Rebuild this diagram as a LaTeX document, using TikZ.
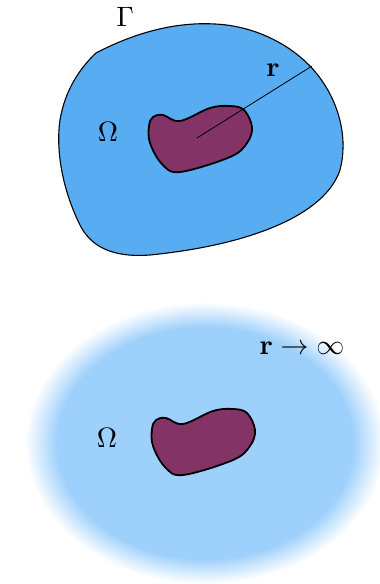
\documentclass[tikz,border=0pt]{standalone}
\begin{document}
\definecolor{topblue}{HTML}{58ACF2}
\definecolor{farblue}{HTML}{9DD0FB}
\definecolor{blobpurple}{HTML}{843366}
\pgfdeclareradialshading{farfade}{\pgfpoint{0bp}{0bp}}{%
  color(0bp)=(farblue); color(20.5bp)=(farblue); color(22.5bp)=(farblue!55!white);
  color(25bp)=(white); color(50bp)=(white)}
\begin{tikzpicture}[x=1pt,y=-1pt,
  lbl/.style={inner sep=0pt,font=\normalsize,scale=2.8},
  blobstyle/.style={fill=blobpurple,draw=black,line width=1.8pt},
]
\useasboundingbox (0,0) rectangle (380,584);
% ---------- top picture ----------
\draw[fill=topblue,line width=1.1pt]
  (96,53) .. controls (140,30) and (180,22) .. (215,24)
  .. controls (260,26) and (300,50) .. (320,78)
  .. controls (340,105) and (348,140) .. (340,170)
  .. controls (325,215) and (250,245) .. (150,255)
  .. controls (110,258) and (90,245) .. (80,225)
  .. controls (65,195) and (55,155) .. (60,120)
  .. controls (65,90) and (80,68) .. (96,53) -- cycle;
\draw[blobstyle,tension=0.6] plot[smooth cycle] coordinates{
   (153,117) (163,115) (180,121) (210,108) (230,106) (244,110) (252,127)
   (247,143) (230,157) (180,172) (162,164) (150,143) (149,126)};
\coordinate (c1) at (197,138);
\coordinate (g1) at (312,66);
\draw[line width=0.8pt] (c1) -- (g1);
\node[lbl] (gam) at (125,17) {$\Gamma$};
\node[lbl] (rr) at (273,70) {$\mathbf{r}$};
\node[lbl] (om2x) at (108,132) {$\Omega$};
% ---------- bottom picture ----------
\shade[shading=farfade] (205,443) ellipse [x radius=180pt, y radius=141pt];
\begin{scope}[shift={(3,303)}]
\draw[blobstyle,tension=0.6] plot[smooth cycle] coordinates{
   (153,117) (163,115) (180,121) (210,108) (230,106) (244,110) (252,127)
   (247,143) (230,157) (180,172) (162,164) (150,143) (149,126)};
\end{scope}
\node[lbl] (om2) at (107,438) {$\Omega$};
\node[lbl] (rinf) at (302,348) {$\mathbf{r}\rightarrow\infty$};
\end{tikzpicture}
\end{document}
